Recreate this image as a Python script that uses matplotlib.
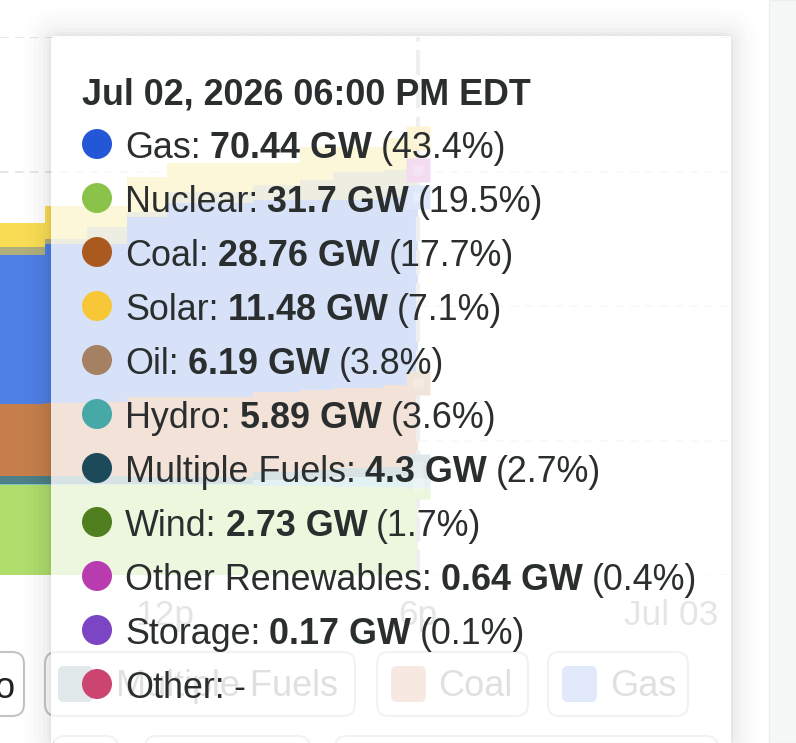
import matplotlib
matplotlib.use("Agg")
import matplotlib.pyplot as plt
from matplotlib.patches import FancyBboxPatch, Rectangle, PathPatch
from matplotlib.path import Path
import numpy as np

plt.rcParams['font.family'] = ['Liberation Sans', 'DejaVu Sans']

W, H = 796, 743

# ---- chart data (GW), hours of day on Jul 02 ----
hours = [8.09, 9.16, 10.15, 11.10, 12.05, 14.09, 15.21, 15.99, 17.18, 18.0]
nuclear = [33.5, 33.5, 33.5, 33.5, 33.5, 33.1, 33.1, 32.7, 32.7, 32.7]
hydro = [0.2, 0.2, 0.2, 0.4, 0.4, 2.2, 2.6, 3.7, 4.1, 4.1]
multiple = [3.0, 3.0, 3.0, 2.6, 2.6, 3.0, 3.3, 3.3, 3.3, 3.7]
coal = [26.8, 27.1, 27.5, 29.7, 29.7, 29.7, 29.7, 29.7, 30.5, 30.9]
gas = [55.4, 59.1, 58.7, 66.9, 72.1, 71.4, 70.6, 69.9, 69.9, 69.1]
oil = [3.0, 1.9, 6.3, 1.9, 4.1, 5.6, 7.4, 10.4, 10.0, 10.0]
solar = [8.9, 12.3, 7.8, 13.0, 10.8, 8.2, 12.3, 9.3, 11.9, 11.9]

layers = [nuclear, hydro, multiple, coal, gas, oil, solar]
layer_colors = ['#b0dd6c', '#7fc4c4', '#4d7f86', '#c67f4c', '#4f80e4', '#b0b07c', '#f9dd55']
marker_colors = ['#a6d86a', '#8fc8c8', '#6c949c', '#c48a5c', '#6a94e8', '#c95ec0', '#f8d040']

x_ticks = [12, 18, 24]
x_tick_labels = ['12p', '6p', 'Jul 03']
y_ticks = [0, 50, 100, 150, 200]

# ---- legend chips ----
chip_labels = ['Multiple Fuels', 'Coal', 'Gas']
chip_colors = ['#4d7f86', '#c67f4c', '#4f80e4']

# ---- tooltip ----
tip_title = 'Jul 02, 2026 06:00 PM EDT'
tip_names = ['Gas', 'Nuclear', 'Coal', 'Solar', 'Oil', 'Hydro', 'Multiple Fuels',
             'Wind', 'Other Renewables', 'Storage', 'Other']
tip_values = ['70.44 GW', '31.7 GW', '28.76 GW', '11.48 GW', '6.19 GW', '5.89 GW',
              '4.3 GW', '2.73 GW', '0.64 GW', '0.17 GW', '-']
tip_shares = ['(43.4%)', '(19.5%)', '(17.7%)', '(7.1%)', '(3.8%)', '(3.6%)',
              '(2.7%)', '(1.7%)', '(0.4%)', '(0.1%)', '']
tip_colors = ['#2457d6', '#8bc34a', '#ab5a1f', '#f7c737', '#a58063', '#47a8a8',
              '#1c4a5a', '#4f7f1e', '#b93bb0', '#7b45c4', '#cc4470']

fig = plt.figure(figsize=(W / 100, H / 100), dpi=100, facecolor='white')

# chart axes: 0 GW at y=575 px, 200 GW at y=37 px; x px 165 = 12h, 42.17 px/h
px_per_h = 42.17
ax_right = 735
ax = fig.add_axes([0, (H - 575) / H, ax_right / W, (575 - 37) / H], zorder=2)
ax.set_xlim(12 - 165 / px_per_h, 12 + (ax_right - 165) / px_per_h)
ax.set_ylim(0, 200)
ax.patch.set_alpha(0)
for s in ax.spines.values():
    s.set_visible(False)
ax.set_yticks(y_ticks)
ax.set_yticklabels([])
ax.tick_params(axis='y', length=0)
ax.set_xticks(x_ticks)
ax.set_xticklabels(x_tick_labels, fontsize=25.5, color='#8a8a8a')
ax.tick_params(axis='x', length=0, pad=17)
ax.set_axisbelow(True)
ax.grid(axis='y', color='#e2e2e2', linestyle=(0, (5, 4)), linewidth=1.2)
ax.stackplot(hours, *layers, colors=layer_colors, step='post', linewidth=0, zorder=2)

ax.axvline(18, color='#b4bcbc', linewidth=3, linestyle=(0, (6, 2)), zorder=3)
tops = np.cumsum([l[-1] for l in layers])
for top, c in zip(tops, marker_colors):
    ax.plot([18], [top], linestyle='none', marker='s', markersize=17, markerfacecolor=c,
            markeredgecolor='none', zorder=4, clip_on=False)
    ax.plot([18], [top], linestyle='none', marker='s', markersize=7, markerfacecolor='white',
            markeredgecolor='none', alpha=0.25, zorder=5)

# overlay in pixel coordinates for page furniture
ov = fig.add_axes([0, 0, 1, 1], zorder=3)
ov.set_xlim(0, W)
ov.set_ylim(H, 0)
ov.axis('off')
ov.patch.set_alpha(0)


def rbox(x0, y0, x1, y1, r, **kw):
    p = FancyBboxPatch((x0 + r, y0 + r), x1 - x0 - 2 * r, y1 - y0 - 2 * r,
                       boxstyle=f'round,pad={r},rounding_size={r}', **kw)
    ov.add_patch(p)
    return p


# right gutter
ov.add_patch(Rectangle((769, 0), 30, H, facecolor='#f6f7f7', edgecolor='#eceeee', lw=1, zorder=1))

# legend chips
rbox(-20, 652, 24, 716, 12, facecolor='white', edgecolor='#c4c4c4', lw=1.5, zorder=1.5)
ov.text(-6, 688, 'o', fontsize=26, color='#222222', ha='left', va='center', zorder=1.6)
chips = [(45, 355, 58, 116), (377, 528, 391, 438), (548, 688, 562, 610)]
for (x0, x1, sx, tx), lab, col in zip(chips, chip_labels, chip_colors):
    rbox(x0, 652, x1, 716, 12, facecolor='white', edgecolor='#c8c8c8', lw=1.5, zorder=1.5)
    rbox(sx, 666, sx + 35, 702, 6, facecolor=col, edgecolor='none', alpha=0.75, zorder=1.6)
    ov.text(tx, 687, lab, fontsize=26, color='#777777', ha='left', va='center', zorder=1.6)
for x0, x1 in [(53, 118), (145, 310), (335, 718)]:
    rbox(x0, 736, x1, 790, 12, facecolor='white', edgecolor='#c8c8c8', lw=1.5, zorder=1.5)

# tooltip shadow (only outside the body, so the body stays white) + body
BX0, BY0, BX1, BY1 = 51, 36, 731, 745
inner = np.array([(BX0, BY0), (BX0, BY1), (BX1, BY1), (BX1, BY0), (BX0, BY0)], float)
inner_codes = [Path.MOVETO, Path.LINETO, Path.LINETO, Path.LINETO, Path.CLOSEPOLY]
for pad, a in [(28, 0.007), (22, 0.008), (17, 0.010), (12, 0.012), (8, 0.014), (4, 0.018), (2, 0.025)]:
    probe = FancyBboxPatch((BX0 + 10, BY0 + 10), BX1 - BX0 - 20, BY1 - BY0 - 20,
                           boxstyle=f'round,pad={10 + pad},rounding_size={10 + pad}')
    outer = probe.get_path()
    comp = Path.make_compound_path(outer, Path(inner, inner_codes))
    ov.add_patch(PathPatch(comp, facecolor='black', edgecolor='none', alpha=a, zorder=2))
rbox(BX0, BY0, BX1, BY1, 10, facecolor='white', edgecolor='none', alpha=0.78, zorder=3)

TXT = '#2a2e2e'
FS = 25.8
ov.text(82, 95, tip_title, fontsize=25.8, fontweight='bold', color=TXT, va='center', ha='left', zorder=5)

fig.canvas.draw()
rend = fig.canvas.get_renderer()
for i, (n, v, s, c) in enumerate(zip(tip_names, tip_values, tip_shares, tip_colors)):
    yc = 147 + 54 * i
    ov.add_patch(plt.Circle((97, yc - 3), 15, facecolor=c, edgecolor='none', zorder=5))
    t1 = ov.text(125, yc + 2, n + ':', fontsize=FS, color=TXT, va='center', ha='left', zorder=5)
    x = t1.get_window_extent(rend).x1 + 9
    weight = 'normal' if v == '-' else 'bold'
    t2 = ov.text(x, yc + 2, v, fontsize=FS, fontweight=weight, color=TXT, va='center', ha='left', zorder=5)
    x = t2.get_window_extent(rend).x1 + 9
    if s:
        ov.text(x, yc + 2, s, fontsize=FS, color=TXT, va='center', ha='left', zorder=5)

fig.savefig('out.png', dpi=100, facecolor='white')
